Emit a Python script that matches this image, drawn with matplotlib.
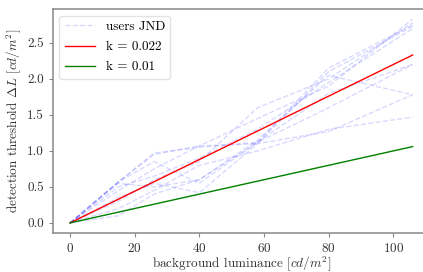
import numpy as np
import matplotlib
matplotlib.use("Agg")
import matplotlib.pyplot as plt

# data
luminance = [0, 15, 26, 40, 58, 80, 106]

users_jnd = [
    [0.0, 0.57, 0.97, 1.05, 1.12, 2.15, 2.75],
    [0.0, 0.57, 0.95, 1.07, 1.10, 2.10, 2.73],
    [0.0, 0.45, 0.75, 1.07, 1.45, 1.90, 2.83],
    [0.0, 0.30, 0.60, 0.85, 1.60, 2.00, 2.78],
    [0.0, 0.55, 0.50, 0.60, 1.12, 1.80, 2.20],
    [0.0, 0.10, 0.40, 0.60, 1.15, 2.05, 1.78],
    [0.0, 0.35, 0.55, 0.42, 1.10, 1.27, 1.78],
    [0.0, 0.20, 0.45, 0.80, 1.00, 1.30, 1.47],
    [0.0, 0.50, 0.65, 0.90, 1.30, 1.95, 2.70],
    [0.0, 0.57, 0.85, 0.55, 1.12, 1.60, 2.20],
]

k_values = [0.022, 0.01]
k_colors = ["red", "green"]

plt.rcParams["font.family"] = "serif"
plt.rcParams["font.serif"] = ["cmr10", "DejaVu Serif"]
plt.rcParams["mathtext.fontset"] = "cm"
plt.rcParams["axes.formatter.use_mathtext"] = True

fig = plt.figure(figsize=(4.23, 2.72), dpi=100)
ax = fig.add_axes([0.125, 0.143, 0.891, 0.824])

for i, u in enumerate(users_jnd):
    ax.plot(luminance, u, ls="--", lw=1.0, color="b", alpha=0.15,
            label="users JND" if i == 0 else None)

x = np.array(luminance)
for k, c in zip(k_values, k_colors):
    ax.plot(x, k * x, color=c, lw=1.0, label="k = %g" % k)

ax.set_xticks([0, 20, 40, 60, 80, 100])
ax.set_yticks([0.0, 0.5, 1.0, 1.5, 2.0, 2.5])
ax.set_yticklabels(["0.0", "0.5", "1.0", "1.5", "2.0", "2.5"])

for s in ax.spines.values():
    s.set_color("#888888")
    s.set_linewidth(1.1)
ax.tick_params(colors="#333333", labelsize=9.5, length=3, width=0.8, pad=3.5)
ax.tick_params(axis="both", color="#888888")

ax.set_xlabel(r"background luminance $[cd/m^2]$", fontsize=9.5, color="#333333")
ax.set_ylabel(r"detection threshold $\Delta L$ $[cd/m^2]$", fontsize=9.5,
              color="#333333")
ax.xaxis.set_label_coords(0.5, -0.095)
ax.yaxis.set_label_coords(-0.078, 0.5)

ax.legend(loc="upper left", fontsize=9.5, framealpha=0.8, edgecolor="#dddddd",
          handlelength=2.3, labelspacing=0.6)

fig.savefig("out.png", dpi=100)
